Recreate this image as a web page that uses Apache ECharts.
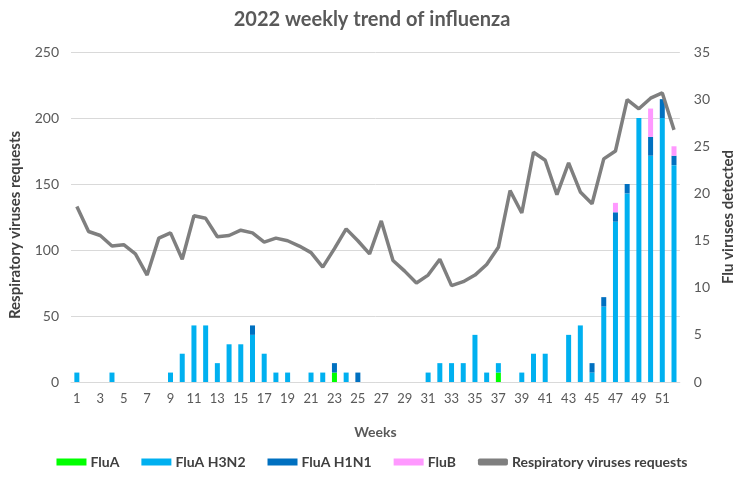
<!DOCTYPE html>
<html><head><meta charset="utf-8">
<script src="https://cdn.jsdelivr.net/npm/echarts@6/dist/echarts.min.js"></script>
<style>html,body{margin:0;padding:0;background:#fff}#c{width:744px;height:480px}</style>
</head><body><div id="c"></div>
<script>
const weeks = Array.from({length: 52}, (_, i) => String(i + 1));
const fluA =   [0,0,0,0,0,0,0,0,0,0,0,0,0,0,0,0,0,0,0,0,0,0,1,0,0,0,0,0,0,0,0,0,0,0,0,0,1,0,0,0,0,0,0,0,0,0,0,0,0,0,0,0];
const fluH3N2 = [1,0,0,1,0,0,0,0,1,3,6,6,2,4,4,5,3,1,1,0,1,1,0,1,0,0,0,0,0,0,1,2,2,2,5,1,1,0,1,3,3,0,5,6,1,8,17,20,28,24,28,23];
const fluH1N1 = [0,0,0,0,0,0,0,0,0,0,0,0,0,0,0,1,0,0,0,0,0,0,1,0,1,0,0,0,0,0,0,0,0,0,0,0,0,0,0,0,0,0,0,0,1,1,1,1,0,2,2,1];
const fluB =   [0,0,0,0,0,0,0,0,0,0,0,0,0,0,0,0,0,0,0,0,0,0,0,0,0,0,0,0,0,0,0,0,0,0,0,0,0,0,0,0,0,0,0,0,0,0,1,0,0,3,0,1];
const requests = [133,114,111,103,104,97,81,109,113,93,126,124,110,111,115,113,106,109,107,103,98,87,101,116,107,97,122,92,84,75,81,93,73,76,81,89,102,145,128,174,168,142,166,144,135,169,175,214,207,215,219,191];

const font = 'Lato';
const chart = echarts.init(document.getElementById('c'));
const barSeries = (name, data, color) => ({
  name, type: 'bar', stack: 'flu', yAxisIndex: 1, data, barWidth: 5,
  itemStyle: {color}, emphasis: {disabled: true}
});
chart.setOption({
  animation: false,
  textStyle: {fontFamily: font},
  title: {text: '2022 weekly trend of influenza', left: 'center', top: 5,
    textStyle: {fontSize: 20, fontWeight: 'bold', color: '#595959', fontFamily: font}},
  grid: {left: 71, right: 64, top: 52, bottom: 98, containLabel: false},
  legend: {
    bottom: 6, left: 'center', itemGap: 22, itemWidth: 30, itemHeight: 7,
    textStyle: {fontSize: 14, color: '#404040', fontWeight: 'bold', fontFamily: font, padding: [0, 0, 0, -1]},
    data: [
      {name: 'FluA', icon: 'rect'},
      {name: 'FluA H3N2', icon: 'rect'},
      {name: 'FluA H1N1', icon: 'rect'},
      {name: 'FluB', icon: 'rect'},
      {name: 'Respiratory viruses requests', icon: 'roundRect', itemStyle: {color: '#7F7F7F'}}
    ]
  },
  xAxis: {
    type: 'category', data: weeks, boundaryGap: true,
    name: 'Weeks', nameLocation: 'middle', nameGap: 43,
    nameTextStyle: {fontSize: 14, fontWeight: 'bold', color: '#595959'},
    axisLine: {lineStyle: {color: '#D9D9D9'}},
    axisTick: {show: false},
    axisLabel: {interval: 1, color: '#595959', fontSize: 13, margin: 10}
  },
  yAxis: [
    {type: 'value', min: 0, max: 250, interval: 50,
     name: 'Respiratory viruses requests', nameLocation: 'middle', nameGap: 48, nameRotate: 90,
     nameTextStyle: {fontSize: 15, fontWeight: 'bold', color: '#404040', padding: [0, 0, 0, -16]},
     axisLine: {show: false}, axisTick: {show: false},
     axisLabel: {color: '#595959', fontSize: 14, margin: 12},
     splitLine: {lineStyle: {color: '#D9D9D9', width: 1}}},
    {type: 'value', min: 0, max: 35, interval: 5,
     name: 'Flu viruses detected', nameLocation: 'middle', nameGap: 38, nameRotate: 90,
     nameTextStyle: {fontSize: 15, fontWeight: 'bold', color: '#404040'},
     axisLine: {show: false}, axisTick: {show: false},
     axisLabel: {color: '#595959', fontSize: 14, margin: 14},
     splitLine: {show: false}}
  ],
  series: [
    barSeries('FluA', fluA, '#00FF00'),
    barSeries('FluA H3N2', fluH3N2, '#00B0F0'),
    barSeries('FluA H1N1', fluH1N1, '#0070C0'),
    barSeries('FluB', fluB, '#FF99FF'),
    {name: 'Respiratory viruses requests', type: 'line', yAxisIndex: 0, data: requests,
     symbol: 'none', lineStyle: {color: '#7F7F7F', width: 3.5}, itemStyle: {color: '#7F7F7F'},
     z: 3}
  ]
});
</script></body></html>
